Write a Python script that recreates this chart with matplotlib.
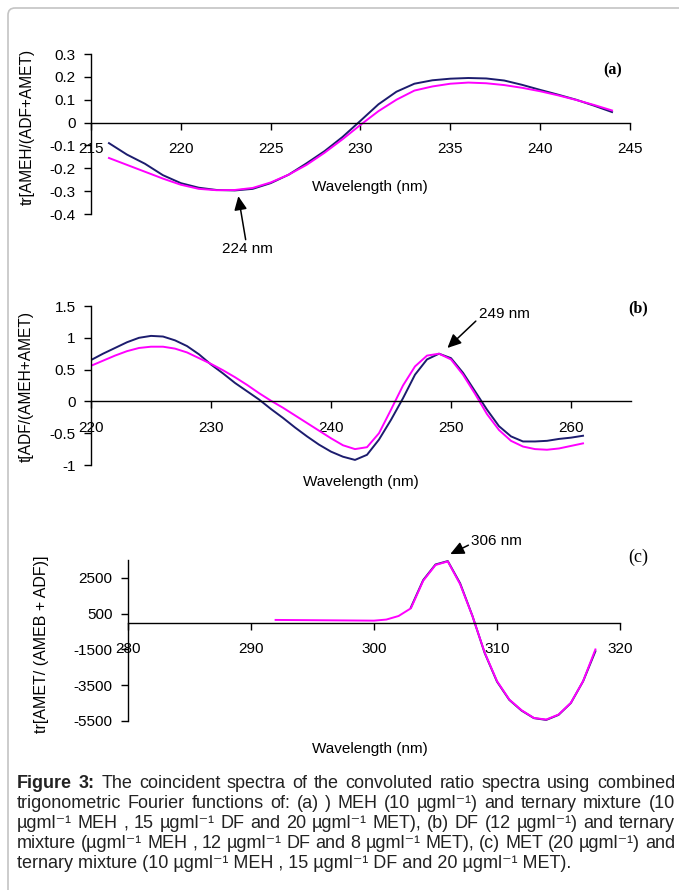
import matplotlib
matplotlib.use('Agg')
import matplotlib.pyplot as plt
from matplotlib.patches import FancyBboxPatch

plt.rcParams['font.family'] = ['Liberation Sans', 'DejaVu Sans']
plt.rcParams['axes.unicode_minus'] = False

NAVY = '#1c1c6e'
PINK = '#ff00ff'

# (a) MEH vs ternary mixture
wl_a = [216, 217, 218, 219, 220, 221, 222, 223, 224, 225, 226, 227, 228, 229, 230,
        231, 232, 233, 234, 235, 236, 237, 238, 239, 240, 241, 242, 243, 244]
meh_a = [-0.09, -0.14, -0.18, -0.23, -0.265, -0.285, -0.295, -0.297, -0.29, -0.265,
         -0.228, -0.178, -0.125, -0.063, 0.008, 0.08, 0.135, 0.17, 0.185, 0.192,
         0.195, 0.193, 0.184, 0.165, 0.143, 0.122, 0.1, 0.074, 0.046]
mix_a = [-0.155, -0.185, -0.215, -0.245, -0.272, -0.29, -0.296, -0.295, -0.286, -0.262,
         -0.228, -0.185, -0.132, -0.073, -0.01, 0.05, 0.1, 0.14, 0.158, 0.17,
         0.175, 0.172, 0.164, 0.152, 0.137, 0.119, 0.099, 0.077, 0.053]

# (b) DF vs ternary mixture
wl_b = list(range(220, 262))
df_b = [0.65, 0.75, 0.84, 0.93, 1.0, 1.03, 1.02, 0.96, 0.87, 0.74, 0.58, 0.44,
        0.29, 0.16, 0.03, -0.12, -0.26, -0.41, -0.55, -0.68, -0.79, -0.87, -0.92,
        -0.84, -0.6, -0.29, 0.05, 0.42, 0.66, 0.75, 0.68, 0.45, 0.16, -0.13, -0.39,
        -0.55, -0.63, -0.63, -0.62, -0.59, -0.57, -0.54]
mix_b = [0.56, 0.64, 0.72, 0.79, 0.84, 0.86, 0.86, 0.83, 0.77, 0.68, 0.59, 0.49,
         0.38, 0.26, 0.13, 0.01, -0.1, -0.22, -0.34, -0.46, -0.58, -0.69, -0.75,
         -0.72, -0.5, -0.13, 0.25, 0.55, 0.72, 0.75, 0.66, 0.42, 0.12, -0.2, -0.45,
         -0.62, -0.71, -0.75, -0.76, -0.74, -0.7, -0.66]

# (c) MET vs ternary mixture
wl_c_met = [303, 304, 305, 306, 307, 308, 309, 310, 311, 312, 313, 314, 315, 316, 317, 318]
met_c = [850, 2380, 3250, 3440, 2200, 380, -1700, -3300, -4320, -4920, -5340, -5440,
         -5160, -4500, -3280, -1600]
wl_c_mix = [292, 294, 296, 298, 300, 301, 302, 303, 304, 305, 306, 307, 308, 309, 310,
            311, 312, 313, 314, 315, 316, 317, 318]
mix_c = [150, 140, 130, 120, 110, 170, 370, 800, 2340, 3220, 3420, 2150, 370, -1680,
         -3270, -4300, -4900, -5330, -5420, -5140, -4490, -3270, -1500]

W, H = 679, 890
TICK = 11
LAB = 11
LW = 1.4


def px(x, y):
    # pixel position (from top-left) to figure fraction
    return x / W, 1 - y / H


def setup(ax, xlim, ylim, xticks, yticks, ylabels):
    ax.set_xlim(*xlim)
    ax.set_ylim(*ylim)
    ax.spines['top'].set_visible(False)
    ax.spines['right'].set_visible(False)
    ax.spines['bottom'].set_position(('data', 0))
    for s in ['left', 'bottom']:
        ax.spines[s].set_linewidth(1.0)
    ax.set_xticks(xticks)
    ax.set_xticklabels([str(t) for t in xticks])
    ax.set_yticks(yticks)
    ax.set_yticklabels(ylabels)
    ax.tick_params(axis='x', direction='out', length=5, width=1.0, pad=9, labelsize=TICK)
    ax.tick_params(axis='y', direction='out', length=5, width=1.0, pad=6, labelsize=TICK)
    ax.patch.set_alpha(0)


fig = plt.figure(figsize=(W / 100, H / 100), dpi=100)

# light rounded frame around the figure block
bg = fig.add_axes([0, 0, 1, 1])
bg.axis('off')
bg.set_xlim(0, W)
bg.set_ylim(H, 0)
bg.add_patch(FancyBboxPatch((8, 8), W + 20, H + 20, boxstyle='round,pad=0,rounding_size=7',
                            fill=False, edgecolor='#c4c4c4', lw=1.2))

arrow = dict(arrowstyle='-|>,head_width=0.35,head_length=0.75', color='black',
             lw=1.1, shrinkA=0, shrinkB=0)

# ---- panel (a)
ax1 = fig.add_axes([91 / W, 1 - 214 / H, 539 / W, 160 / H])
ax1.plot(wl_a, meh_a, color=NAVY, lw=LW)
ax1.plot(wl_a, mix_a, color=PINK, lw=LW)
setup(ax1, (215, 245), (-0.4, 0.3), [215, 220, 225, 230, 235, 240, 245],
      [0.3, 0.2, 0.1, 0, -0.1, -0.2, -0.3, -0.4],
      ['0.3', '0.2', '0.1', '0', '-0.1', '-0.2', '-0.3', '-0.4'])
ax1.annotate('224 nm', xy=(223.2, -0.322), xytext=(223.7, -0.555), xycoords='data',
             ha='center', va='center', fontsize=LAB, annotation_clip=False,
             arrowprops=arrow)
fig.text(*px(370, 187), 'Wavelength (nm)', ha='center', va='center', fontsize=LAB)
fig.text(*px(27, 127), 'tr[AMEH/(ADF+AMET)', rotation=90, ha='center', va='center',
         fontsize=11.2)
fig.text(*px(613, 70), '(a)', ha='center', va='center', fontsize=11.5,
         family='Liberation Serif', weight='bold')

# ---- panel (b)
ax2 = fig.add_axes([91 / W, 1 - 465 / H, 540 / W, 159 / H])
ax2.plot(wl_b, df_b, color=NAVY, lw=LW)
ax2.plot(wl_b, mix_b, color=PINK, lw=LW)
setup(ax2, (220, 265), (-1, 1.5), [220, 230, 240, 250, 260],
      [1.5, 1, 0.5, 0, -0.5, -1], ['1.5', '1', '0.5', '0', '-0.5', '-1'])
ax2.annotate('249 nm', xy=(249.7, 0.84), xytext=(252.3, 1.37), xycoords='data',
             ha='left', va='center', fontsize=LAB, annotation_clip=False,
             arrowprops=dict(arrow, relpos=(0, 0.2)))
fig.text(*px(361, 482), 'Wavelength (nm)', ha='center', va='center', fontsize=LAB)
fig.text(*px(26, 387), 't[ADF/(AMEH+AMET)', rotation=90, ha='center', va='center',
         fontsize=11.2)
fig.text(*px(638, 308), '(b)', ha='center', va='center', fontsize=11.5,
         family='Liberation Serif', weight='bold')

# ---- panel (c)
ax3 = fig.add_axes([128 / W, 1 - 721 / H, 492 / W, 161 / H])
ax3.plot(wl_c_met, met_c, color=NAVY, lw=LW)
ax3.plot(wl_c_mix, mix_c, color=PINK, lw=LW)
setup(ax3, (280, 320), (-5500, 3500), [280, 290, 300, 310, 320],
      [2500, 500, -1500, -3500, -5500], ['2500', '500', '-1500', '-3500', '-5500'])
ax3.annotate('306 nm', xy=(306.2, 3830), xytext=(307.9, 4560), xycoords='data',
             ha='left', va='center', fontsize=LAB, annotation_clip=False,
             arrowprops=dict(arrow, relpos=(0, 0.3)))
fig.text(*px(370, 749), 'Wavelength (nm)', ha='center', va='center', fontsize=LAB)
fig.text(*px(42, 644), 'tr[AMET/ (AMEB + ADF)]', rotation=90, ha='center', va='center',
         fontsize=11.5)
fig.text(*px(638, 557), '(c)', ha='center', va='center', fontsize=13,
         family='Liberation Serif')

# ---- caption, justified like the journal layout
cap_lines = [
    'Figure 3: The coincident spectra of the convoluted ratio spectra using combined',
    'trigonometric Fourier functions of: (a) ) MEH (10 \u00b5gml\u207b\u00b9) and ternary mixture (10',
    '\u00b5gml\u207b\u00b9  MEH , 15 \u00b5gml\u207b\u00b9 DF and 20 \u00b5gml\u207b\u00b9  MET), (b) DF (12 \u00b5gml\u207b\u00b9) and ternary',
    'mixture (\u00b5gml\u207b\u00b9  MEH , 12 \u00b5gml\u207b\u00b9 DF and 8 \u00b5gml\u207b\u00b9 MET), (c) MET (20 \u00b5gml\u207b\u00b9) and',
    'ternary mixture (10 \u00b5gml\u207b\u00b9 MEH , 15 \u00b5gml\u207b\u00b9 DF and 20 \u00b5gml\u207b\u00b9 MET).',
]
cap_y = [783, 804, 824, 844, 864]
cap_x0, cap_x1 = 17, 675
cap_size = 13

renderer = fig.canvas.get_renderer()
for i, line in enumerate(cap_lines):
    if i == len(cap_lines) - 1:
        fig.text(cap_x0 / W, 1 - cap_y[i] / H, line, ha='left', va='center',
                 fontsize=cap_size, color='#222222')
        continue
    words = line.split()
    arts = []
    for j, w in enumerate(words):
        bold = i == 0 and j < 2
        arts.append(fig.text(0, 1 - cap_y[i] / H, w, ha='left', va='center',
                             fontsize=cap_size, color='#222222',
                             weight='bold' if bold else 'normal'))
    widths = [a.get_window_extent(renderer).width for a in arts]
    gap = (cap_x1 - cap_x0 - sum(widths)) / (len(words) - 1)
    x = cap_x0
    for a, w in zip(arts, widths):
        a.set_x(x / W)
        x += w + gap

fig.savefig('out.png', dpi=100)
